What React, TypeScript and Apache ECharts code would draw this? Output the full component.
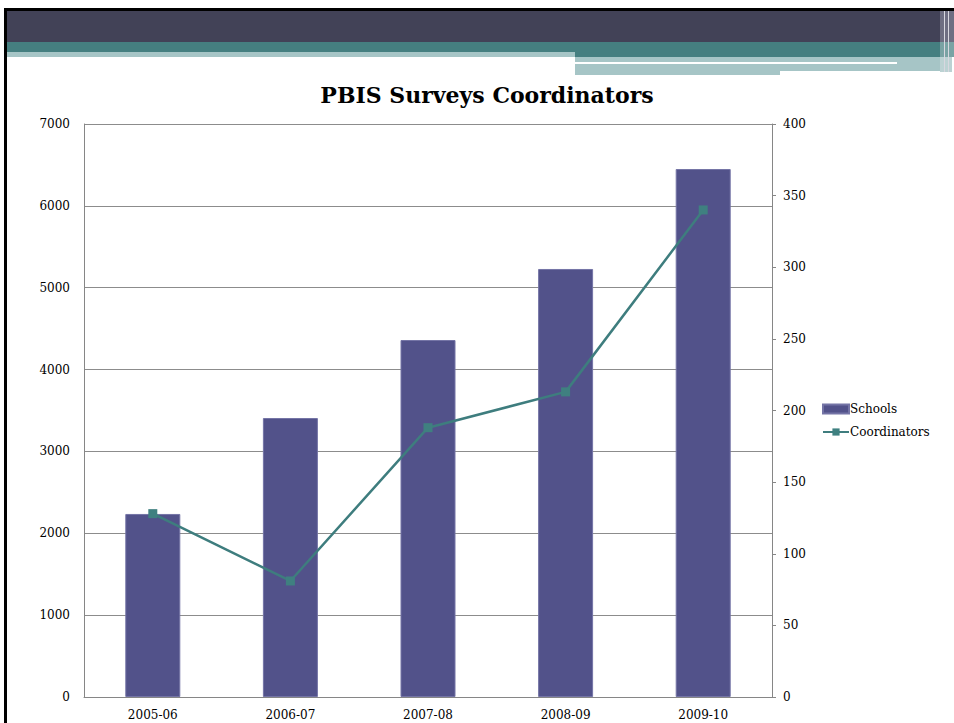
import React, { useEffect, useRef } from "react";
import * as echarts from "echarts";

const categories = ["2005-06", "2006-07", "2007-08", "2008-09", "2009-10"];
const schools = [2236, 3408, 4361, 5229, 6450];
const coordinators = [128, 81, 188, 213, 340];
const leftTicks = { min: 0, max: 7000, interval: 1000 };
const rightTicks = { min: 0, max: 400, interval: 50 };

const FONT = "DejaVu Serif";

export default function App() {
  const ref = useRef<HTMLDivElement>(null);
  useEffect(() => {
    document.body.style.margin = "0";
    const chart = echarts.init(ref.current!, null, { renderer: "svg" });
    const light = "#a6c5c6";
    chart.setOption({
      animation: false,
      backgroundColor: "#ffffff",
      textStyle: { fontFamily: FONT, color: "#000" },
      graphic: [
        { type: "rect", shape: { x: 4, y: 8, width: 950, height: 3 }, style: { fill: "#000" }, silent: true },
        { type: "rect", shape: { x: 4, y: 8, width: 3, height: 715 }, style: { fill: "#000" }, silent: true },
        { type: "rect", shape: { x: 7, y: 11, width: 933, height: 31 }, style: { fill: "#424257" }, silent: true },
        { type: "rect", shape: { x: 7, y: 42, width: 933, height: 10 }, style: { fill: "#457f80" }, silent: true },
        { type: "rect", shape: { x: 7, y: 52, width: 568, height: 5 }, style: { fill: light }, silent: true },
        { type: "rect", shape: { x: 575, y: 52, width: 365, height: 5 }, style: { fill: "#457f80" }, silent: true },
        { type: "rect", shape: { x: 575, y: 57, width: 365, height: 5 }, style: { fill: light }, silent: true },
        { type: "rect", shape: { x: 575, y: 62, width: 322, height: 2 }, style: { fill: "#ffffff" }, silent: true },
        { type: "rect", shape: { x: 897, y: 62, width: 43, height: 2 }, style: { fill: light }, silent: true },
        { type: "rect", shape: { x: 575, y: 64, width: 205, height: 11 }, style: { fill: light }, silent: true },
        { type: "rect", shape: { x: 780, y: 64, width: 160, height: 7 }, style: { fill: light }, silent: true },
        { type: "rect", shape: { x: 940, y: 11, width: 14, height: 31 }, style: { fill: "#6e6e82" }, silent: true },
        { type: "rect", shape: { x: 940, y: 42, width: 14, height: 15 }, style: { fill: "#7aa3a4" }, silent: true },
        { type: "rect", shape: { x: 940, y: 57, width: 12, height: 15 }, style: { fill: "#bcd2d3" }, silent: true },
        { type: "rect", shape: { x: 944, y: 11, width: 1, height: 61 }, style: { fill: "#d8d8e0" }, silent: true },
        { type: "rect", shape: { x: 948, y: 11, width: 1, height: 61 }, style: { fill: "#d8d8e0" }, silent: true },
        {
          type: "text",
          x: 487,
          y: 95,
          style: {
            text: "PBIS Surveys Coordinators",
            font: `bold 22px "${FONT}"`,
            fill: "#000",
            align: "center",
            verticalAlign: "middle",
          },
        },
      ],
      legend: {
        orient: "vertical",
        left: 817,
        top: 398,
        itemGap: 11,
        itemWidth: 26,
        itemHeight: 9,
        textStyle: { fontFamily: FONT, fontSize: 12, color: "#000", padding: [0, 0, 0, -4] },
        data: [
          { name: "Schools", icon: "rect" },
          { name: "Coordinators" },
        ],
      },
      grid: { left: 84, right: 182, top: 124, bottom: 26, containLabel: false },
      xAxis: {
        type: "category",
        data: categories,
        axisLine: { lineStyle: { color: "#868686", width: 1 } },
        axisTick: { show: false },
        axisLabel: { fontFamily: FONT, fontSize: 12, color: "#000", margin: 12 },
      },
      yAxis: [
        {
          type: "value",
          min: leftTicks.min,
          max: leftTicks.max,
          interval: leftTicks.interval,
          axisLine: { show: true, lineStyle: { color: "#868686" } },
          axisTick: { show: false },
          splitLine: { lineStyle: { color: "#8c8c8c", width: 1 } },
          axisLabel: {
            fontFamily: FONT,
            fontSize: 12,
            color: "#000",
            margin: 14,
            formatter: (v: number) => String(v),
          },
        },
        {
          type: "value",
          position: "right",
          min: rightTicks.min,
          max: rightTicks.max,
          interval: rightTicks.interval,
          axisLine: { show: true, lineStyle: { color: "#868686" } },
          axisTick: { show: true, length: 4, lineStyle: { color: "#868686" } },
          splitLine: { show: false },
          axisLabel: {
            fontFamily: FONT,
            fontSize: 12,
            color: "#000",
            margin: 11,
            formatter: (v: number) => String(v),
          },
        },
      ],
      series: [
        {
          name: "Schools",
          type: "bar",
          data: schools,
          barWidth: 55,
          itemStyle: { color: "#52528a", borderColor: "#7474a6", borderWidth: 1 },
        },
        {
          name: "Coordinators",
          type: "line",
          yAxisIndex: 1,
          data: coordinators,
          symbol: "rect",
          symbolSize: 9,
          lineStyle: { color: "#3e7d7e", width: 2.5 },
          itemStyle: { color: "#3f8080" },
        },
      ],
    });
    return () => chart.dispose();
  }, []);
  return (
    <div
      ref={ref}
      style={{ position: "absolute", left: 0, top: 0, width: 954, height: 723 }}
    />
  );
}
